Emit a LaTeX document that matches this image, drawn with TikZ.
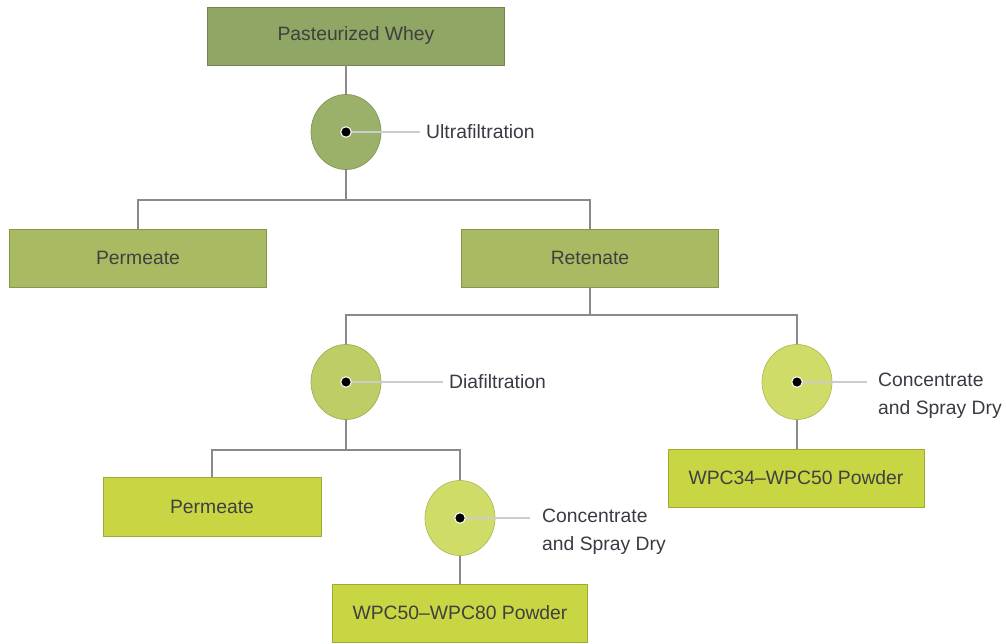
\documentclass[tikz,border=0pt]{standalone}
\usepackage{fontspec}
\setmainfont{Liberation Sans}
\usepackage{tikz}
\usetikzlibrary{shapes.geometric}
\definecolor{wheygreen}{HTML}{8FA664}
\definecolor{midgreen}{HTML}{A8BB62}
\definecolor{limegreen}{HTML}{C8D644}
\definecolor{ufgreen}{HTML}{9BB068}
\definecolor{dfgreen}{HTML}{BECD66}
\definecolor{csdgreen}{HTML}{CFDC68}
\definecolor{linegray}{HTML}{8A8A8A}
\definecolor{textgray}{HTML}{3A3A44}

\begin{document}
\begin{tikzpicture}[
  every node/.style={font=\fontsize{11}{16}\selectfont, text=textgray},
  box/.style={draw=#1!80!black, fill=#1, line width=0.5pt, minimum height=1.16cm, text=black!75},
  proc/.style={ellipse, draw=#1!85!black, fill=#1, minimum width=1.40cm, minimum height=1.50cm, inner sep=0pt},
  dot/.style={circle, fill=black, draw=white, line width=0.6pt, minimum size=6pt, inner sep=0pt},
  link/.style={draw=linegray, line width=0.7pt},
  pointer/.style={draw=black!20, line width=0.9pt}
]
\useasboundingbox (0,0) rectangle (20.12,12.86);

% products
\node[box=wheygreen, minimum width=5.94cm] (whey) at (7.12,12.14) {Pasteurized Whey};
\node[box=midgreen, minimum width=5.14cm] (perm1) at (2.76,7.70) {Permeate};
\node[box=midgreen, minimum width=5.14cm] (ret) at (11.80,7.70) {Retenate};
\node[box=limegreen, minimum width=4.36cm, minimum height=1.18cm] (perm2) at (4.24,2.72) {Permeate};
\node[box=limegreen, minimum width=5.12cm] (wpc34) at (15.92,3.30) {WPC34--WPC50 Powder};
\node[box=limegreen, minimum width=5.10cm] (wpc50) at (9.20,0.60) {WPC50--WPC80 Powder};

% processes
\node[proc=ufgreen] (uf) at (6.92,10.22) {};
\node[proc=dfgreen] (df) at (6.92,5.22) {};
\node[proc=csdgreen] (csdA) at (15.94,5.22) {};
\node[proc=csdgreen] (csdB) at (9.20,2.50) {};

% branch points
\coordinate (ufsplit) at (6.92,8.86);
\coordinate (retsplit) at (11.80,6.56);
\coordinate (dfsplit) at (6.92,3.86);

% connectors
\draw[link] (whey.south -| uf) -- (uf);
\draw[link] (uf) -- (ufsplit);
\draw[link] (perm1.north) |- (ufsplit) -| (ret.north);
\draw[link] (ret) -- (retsplit);
\draw[link] (df.north) |- (retsplit) -| (csdA.north);
\draw[link] (csdA) -- (csdA |- wpc34.north);
\draw[link] (df) -- (dfsplit);
\draw[link] (perm2.north) |- (dfsplit) -| (csdB.north);
\draw[link] (csdB) -- (wpc50);

% labels
\node[anchor=west] (ufl) at (8.40,10.22) {Ultrafiltration};
\node[anchor=west] (dfl) at (8.86,5.22) {Diafiltration};
\node[anchor=west, align=left] (csdAl) at (17.44,4.94) {Concentrate\\and Spray Dry};
\node[anchor=west, align=left] (csdBl) at (10.72,2.22) {Concentrate\\and Spray Dry};

\draw[pointer] (uf.center) -- (ufl.west);
\draw[pointer] (df.center) -- (dfl.west);
\draw[pointer] (csdA.center) -- (17.34,5.22);
\draw[pointer] (csdB.center) -- (10.60,2.50);

\node[dot] at (uf.center) {};
\node[dot] at (df.center) {};
\node[dot] at (csdA.center) {};
\node[dot] at (csdB.center) {};
\end{tikzpicture}
\end{document}
